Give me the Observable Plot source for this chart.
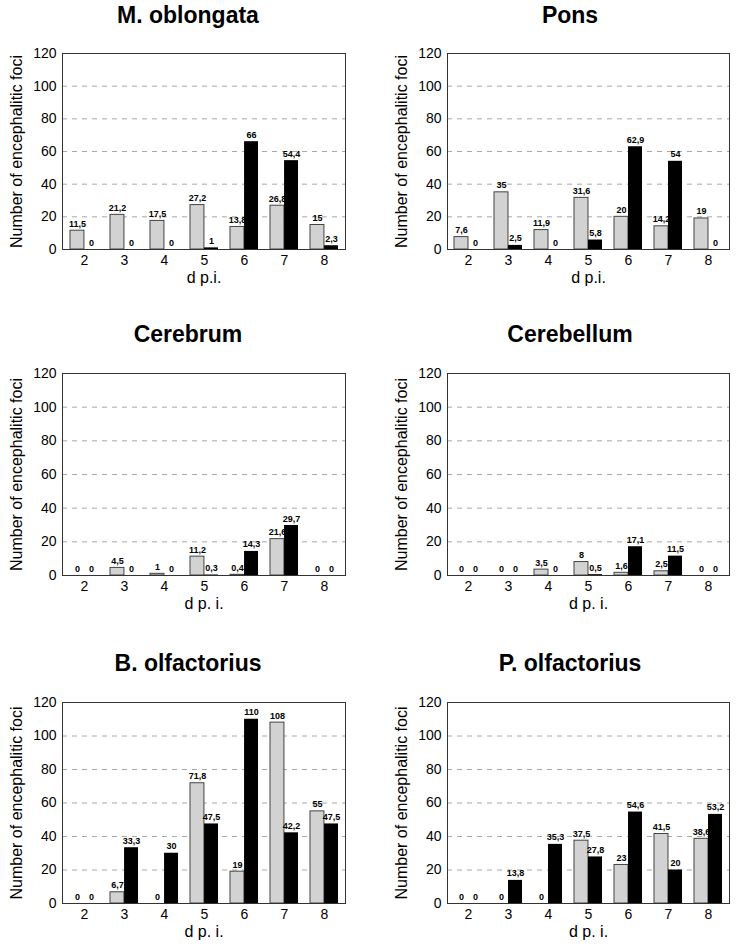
<!DOCTYPE html>
<html>
<head>
<meta charset="utf-8">
<script src="https://cdn.jsdelivr.net/npm/d3@7"></script>
<script src="https://cdn.jsdelivr.net/npm/@observablehq/plot@0.6"></script>
<style>
  body { margin: 0; background: #fff; }
  #root { position: relative; width: 745px; height: 948px; background: #fff;
          font-family: Arial, "Liberation Sans", sans-serif; color: #000; }
  .title { position: absolute; font-weight: bold; font-size: 23px; line-height: 23px;
           white-space: nowrap; transform: translateX(-50%); }
  .panel { position: absolute; }
</style>
</head>
<body>
<div id="root"></div>
<script>
// ---------- data ----------
const days = [2, 3, 4, 5, 6, 7, 8];
const yTicks = [0, 20, 40, 60, 80, 100, 120];
const gridTicks = [20, 40, 60, 80, 100];
const yLabel = "Number of encephalitic foci";
const titles = ["M. oblongata", "Pons", "Cerebrum", "Cerebellum", "B. olfactorius", "P. olfactorius"];
const xLabels = ["d p.i.", "d p.i.", "d p. i.", "d p. i.", "d p. i.", "d p. i."];

const oblongataGray  = [11.5, 21.2, 17.5, 27.2, 13.8, 26.8, 15];
const oblongataBlack = [0, 0, 0, 1, 66, 54.4, 2.3];
const ponsGray       = [7.6, 35, 11.9, 31.6, 20, 14.2, 19];
const ponsBlack      = [0, 2.5, 0, 5.8, 62.9, 54, 0];
const cerebrumGray   = [0, 4.5, 1, 11.2, 0.4, 21.6, 0];
const cerebrumBlack  = [0, 0, 0, 0.3, 14.3, 29.7, 0];
const cerebellumGray = [0, 0, 3.5, 8, 1.6, 2.5, 0];
const cerebellumBlack= [0, 0, 0, 0.5, 17.1, 11.5, 0];
const bOlfGray       = [0, 6.7, 0, 71.8, 19, 108, 55];
const bOlfBlack      = [0, 33.3, 30, 47.5, 110, 42.2, 47.5];
const pOlfGray       = [0, 0, 0, 37.5, 23, 41.5, 38.6];
const pOlfBlack      = [0, 13.8, 35.3, 27.8, 54.6, 20, 53.2];

const grays  = [oblongataGray, ponsGray, cerebrumGray, cerebellumGray, bOlfGray, pOlfGray];
const blacks = [oblongataBlack, ponsBlack, cerebrumBlack, cerebellumBlack, bOlfBlack, pOlfBlack];

// ---------- layout ----------
const colLeft   = [0, 372];
const colMargL  = [62, 75];
const colMargR  = [27, 15];
const colTitleX = [188, 570];
const rowFrameTop = [53, 373, 702];
const rowFrameH   = [196, 202, 201];
const rowTitleTop = [3.5, 322.5, 651.5];
const MT = 12, MB = 40;

const fmt = v => String(v).replace(".", ",");
const root = document.getElementById("root");

function panel(i) {
  const col = i % 2, row = Math.floor(i / 2);
  const rows = days.map((d, k) => ({day: d, gray: grays[i][k], black: blacks[i][k]}));
  const ml = colMargL[col], mr = colMargR[col];
  const plotW = 372 - ml - mr;
  const step = plotW / (days.length - 0.3 + 2 * 0.17);
  const half = step * 0.7 / 2;

  const chart = Plot.plot({
    width: 372,
    height: MT + rowFrameH[row] + MB,
    marginLeft: ml, marginRight: mr, marginTop: MT, marginBottom: MB,
    style: {fontFamily: 'Arial, "Liberation Sans", sans-serif', fontSize: "14px", color: "#000", background: "transparent", overflow: "visible"},
    x: {type: "band", domain: days, paddingInner: 0.3, paddingOuter: 0.17, label: null},
    y: {domain: [0, 120], label: null},
    marks: [
      Plot.gridY(gridTicks, {stroke: "#a8a8a8", strokeOpacity: 1, strokeDasharray: "5,5"}),
      Plot.barY(rows, {x: "day", y: "gray", fill: "#d2d2d2", stroke: "#444", strokeWidth: 1, insetRight: half}),
      Plot.barY(rows, {x: "day", y: "black", fill: "#000", insetLeft: half}),
      Plot.text(rows, {x: "day", y: "gray", text: d => fmt(d.gray), dx: -half / 2, dy: -4, lineAnchor: "bottom", fontSize: 9, fontWeight: "bold"}),
      Plot.text(rows, {x: "day", y: "black", text: d => fmt(d.black), dx: half / 2, dy: -4, lineAnchor: "bottom", fontSize: 9, fontWeight: "bold"}),
      Plot.frame({stroke: "#333", strokeWidth: 1}),
      Plot.axisY(yTicks, {tickSize: 0, tickPadding: 6, fontSize: 14, label: null}),
      Plot.axisX({tickSize: 0, tickPadding: 6, fontSize: 14, label: null}),
      Plot.text([yLabel], {text: d => d, frameAnchor: "left", textAnchor: "middle", lineAnchor: "middle", dx: -46, rotate: -90, fontSize: 16}),
      Plot.text([xLabels[i]], {text: d => d, frameAnchor: "bottom", textAnchor: "middle", lineAnchor: "middle", dy: 28, fontSize: 16})
    ]
  });
  const wrap = document.createElement("div");
  wrap.className = "panel";
  wrap.style.left = colLeft[col] + "px";
  wrap.style.top = (rowFrameTop[row] - MT) + "px";
  wrap.appendChild(chart);
  root.appendChild(wrap);

  const t = document.createElement("div");
  t.className = "title";
  t.textContent = titles[i];
  t.style.left = colTitleX[col] + "px";
  t.style.top = rowTitleTop[row] + "px";
  root.appendChild(t);
}

for (let i = 0; i < 6; i++) panel(i);
</script>
</body>
</html>
